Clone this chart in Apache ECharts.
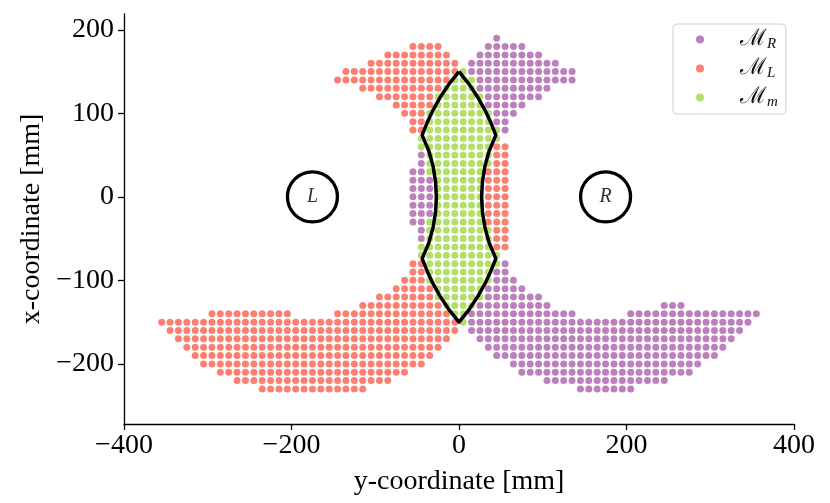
<!DOCTYPE html>
<html>
<head>
<meta charset="utf-8">
<script src="https://cdn.jsdelivr.net/npm/echarts@6/dist/echarts.min.js"></script>
<style>
    html, body { margin: 0; padding: 0; background: #fff; }
    #main { width: 830px; height: 503px; }
</style>
</head>
<body>
<div id="main"></div>
<script>
// grid rows: [x-coordinate, first y, last y] (dots every 10 mm)
var spansR = [
    [190, 45, 45], [180, 35, 75], [170, 25, 95], [160, 15, 115], [150, 15, 135],
    [140, 25, 135], [130, 25, 105], [120, 35, 95], [110, 35, 75], [100, 45, 65],
    [90, 45, 55], [80, 55, 55],
    [50, -45, -45], [40, -45, -45], [30, -55, -45], [20, -55, -35], [10, -55, -35],
    [0, -55, -35], [-10, -55, -35], [-20, -55, -35], [-30, -55, -45], [-40, -45, -45],
    [-50, -45, -45],
    [-80, 55, 55], [-90, 45, 55], [-100, 45, 65], [-110, 35, 75], [-120, 35, 95],
    [-130, 25, 105], [-130, 245, 265], [-140, 15, 135], [-140, 205, 355],
    [-150, 15, 345], [-160, 15, 335], [-170, 25, 325], [-180, 35, 315],
    [-190, 45, 305], [-200, 65, 285], [-210, 75, 275], [-220, 105, 245], [-230, 145, 205]
];
var spansL = [
    [180, -55, -25], [170, -85, -15], [160, -105, -5], [150, -135, -5], [140, -145, -15],
    [130, -115, -25], [120, -95, -35], [110, -75, -35], [100, -65, -45], [90, -55, -45],
    [80, -55, -45],
    [60, 45, 55], [50, 45, 55], [40, 45, 55], [30, 35, 55], [20, 35, 55], [10, 35, 55],
    [0, 35, 55], [-10, 35, 55], [-20, 35, 55], [-30, 35, 55], [-40, 45, 55], [-50, 45, 55],
    [-60, 45, 55],
    [-80, -55, -45], [-90, -55, -45], [-100, -65, -45], [-110, -75, -35], [-120, -95, -35],
    [-130, -115, -25], [-140, -295, -205], [-140, -145, -15], [-150, -355, -5],
    [-160, -345, -5], [-170, -335, -15], [-180, -325, -25], [-190, -315, -35],
    [-200, -305, -45], [-210, -285, -65], [-220, -265, -85], [-230, -235, -115]
];
var spansM = [
    [150, 5, 5], [140, -5, 15], [130, -15, 15], [120, -25, 25], [110, -25, 25],
    [100, -35, 35], [90, -35, 35], [80, -35, 45], [70, -45, 45], [60, -45, 35],
    [50, -35, 35], [40, -35, 35], [30, -35, 25], [20, -25, 25], [10, -25, 25],
    [0, -25, 25], [-10, -25, 25], [-20, -25, 25], [-30, -35, 25], [-40, -35, 35],
    [-50, -35, 35], [-60, -45, 35], [-70, -45, 45], [-80, -35, 45], [-90, -35, 35],
    [-100, -35, 35], [-110, -25, 25], [-120, -25, 25], [-130, -15, 15], [-140, -5, 5],
    [-150, 5, 5]
];

// black lens outline, [y, x] in mm
var lensOutline = [
    [0, 150], [12, 135], [22, 120], [31, 104], [38, 89], [44, 74], [36, 55], [31, 37],
    [28, 18], [27, 0], [28, -18], [31, -37], [36, -55], [44, -74], [38, -89], [31, -104],
    [22, -120], [12, -135], [0, -150], [-12, -135], [-22, -120], [-31, -104], [-38, -89],
    [-44, -74], [-36, -55], [-31, -37], [-28, -18], [-27, 0], [-28, 18], [-31, 37],
    [-36, 55], [-44, 74], [-38, 89], [-31, 104], [-22, 120], [-12, 135], [0, 150]
];

var arms = [
    { name: 'L', value: [-175, 0] },
    { name: 'R', value: [175, 0] }
];

var yTicks = [-200, -100, 0, 100, 200];
var names = ['M_R', 'M_L', 'M_m'];
var subs = { M_R: 'R', M_L: 'L', M_m: 'm' };
var colors = ['#bc80bd', '#fb8072', '#b3de69'];

function expand(spans) {
    var pts = [];
    for (var i in spans) {
        for (var y = spans[i][1]; y <= spans[i][2]; y += 10) {
            pts.push([y, spans[i][0]]);
        }
    }
    return pts;
}

function minus(v) {
    return v < 0 ? '\u2212' + (-v) : '' + v;
}

function dots(name, spans, color) {
    return {
        name: name,
        type: 'scatter',
        data: expand(spans),
        symbol: 'circle',
        symbolSize: 7,
        itemStyle: { color: color, opacity: 1 },
        z: 2
    };
}

var axisFont = { fontFamily: 'Liberation Serif', fontSize: 28, color: '#000' };

var option = {
    animation: false,
    backgroundColor: '#fff',
    grid: { left: 124, right: 36, top: 14, bottom: 79 },
    legend: {
        data: names,
        orient: 'vertical',
        left: 673,
        top: 24,
        icon: 'circle',
        itemWidth: 8,
        itemHeight: 8,
        itemGap: 5,
        padding: [4, 8, 4, 23],
        borderColor: '#d0d0d0',
        borderWidth: 1,
        borderRadius: 4,
        formatter: function (name) {
            return '{m|\u2133}{s|' + subs[name] + '}';
        },
        textStyle: {
            padding: [0, 0, 0, 31],
            rich: {
                m: { fontFamily: 'DejaVu Serif', fontSize: 23, lineHeight: 25, color: '#111', verticalAlign: 'middle' },
                s: { fontFamily: 'Liberation Serif', fontStyle: 'italic', fontSize: 15, lineHeight: 15, color: '#111', verticalAlign: 'bottom' }
            }
        }
    },
    xAxis: {
        type: 'value',
        min: -400,
        max: 400,
        interval: 200,
        name: 'y-coordinate [mm]',
        nameLocation: 'middle',
        nameGap: 44,
        nameTextStyle: axisFont,
        axisLine: { onZero: false, lineStyle: { color: '#000', width: 1.3 } },
        axisTick: { length: 6, lineStyle: { color: '#000', width: 1.3 } },
        axisLabel: { margin: 8, fontFamily: 'Liberation Serif', fontSize: 28, color: '#000', formatter: minus },
        splitLine: { show: false }
    },
    yAxis: {
        type: 'value',
        min: -272,
        max: 219,
        name: 'x-coordinate [mm]',
        nameLocation: 'middle',
        nameGap: 78,
        nameTextStyle: axisFont,
        axisLine: { show: true, onZero: false, lineStyle: { color: '#000', width: 1.3 } },
        axisTick: { show: true, length: 6, customValues: yTicks, lineStyle: { color: '#000', width: 1.3 } },
        axisLabel: { margin: 10, customValues: yTicks, fontFamily: 'Liberation Serif', fontSize: 28, color: '#000', formatter: minus },
        splitLine: { show: false }
    },
    series: [
        dots('M_R', spansR, colors[0]),
        dots('M_L', spansL, colors[1]),
        dots('M_m', spansM, colors[2]),
        {
            name: 'lens',
            type: 'line',
            data: lensOutline,
            symbol: 'none',
            lineStyle: { color: '#000', width: 3.5, join: 'round' },
            z: 3
        },
        {
            name: 'arms',
            type: 'scatter',
            data: arms,
            symbol: 'circle',
            symbolSize: 50,
            itemStyle: { color: '#fff', borderColor: '#000', borderWidth: 3.3, opacity: 1 },
            label: {
                show: true,
                position: 'inside',
                formatter: '{b}',
                fontFamily: 'Liberation Serif',
                fontStyle: 'italic',
                fontSize: 20,
                color: '#333'
            },
            z: 4
        }
    ]
};

echarts.init(document.getElementById('main')).setOption(option);
</script>
</body>
</html>
